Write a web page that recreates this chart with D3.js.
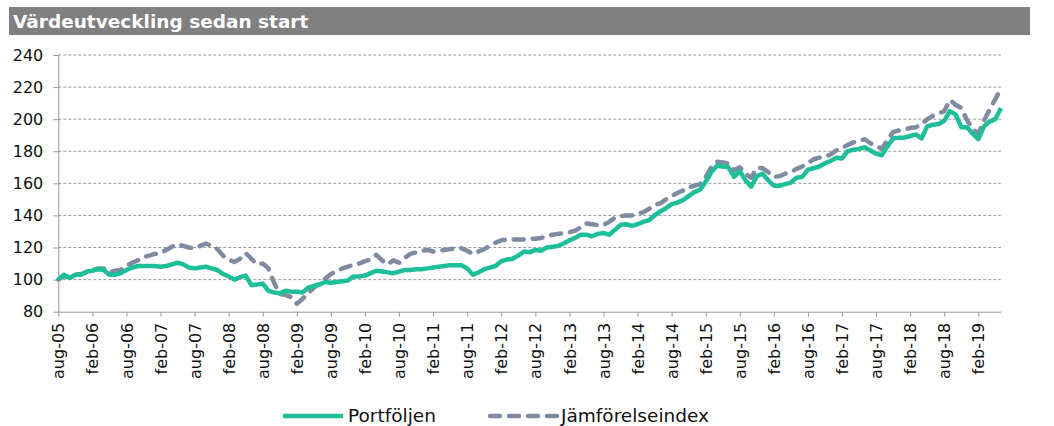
<!DOCTYPE html>
<html>
<head>
<meta charset="utf-8">
<script src="https://cdn.jsdelivr.net/npm/d3@7"></script>
<style>
  body { margin: 0; background: #fff; }
  svg { display: block; font-family: "DejaVu Sans", Verdana, sans-serif; }
</style>
</head>
<body>
<svg id="chart"></svg>
<script>
// monthly values, aug-05 .. jun-19
const portfolj = [
  100, 103, 101, 103, 103, 105, 105.5, 106.5, 106, 103, 103, 104,
  106, 107.5, 108.5, 108.5, 108.5, 108.5, 108, 108.5, 109.5, 110.5, 109.5, 107.5,
  107, 107.5, 108, 107, 106, 103.5, 102, 100, 101.5, 102.5, 96.5, 97,
  97.5, 93, 92, 91.5, 93, 92.5, 92.5, 92, 95, 96, 97, 98.5,
  98, 98.5, 99, 99.5, 102, 102, 102.5, 104, 105.5, 105, 104.5, 104,
  105, 106, 106, 106.5, 106.5, 107, 107.5, 108, 108.5, 109, 109, 109,
  107, 103, 104.5, 106.5, 107.5, 108.5, 111.5, 112.5, 113, 115, 117.5, 117,
  118.5, 118, 120, 120.5, 121, 122.5, 124.5, 126, 128, 128, 127, 128.5,
  129, 128, 131, 134, 134.5, 133.5, 134.5, 136, 137, 140, 142.5, 144.5,
  147, 148, 149.5, 152, 154.5, 156, 161, 167, 171, 170.5, 170, 164,
  167.5, 162, 158, 164.5, 166, 162, 158.5, 158.5, 159.5, 160.5, 163.5, 164,
  168.5, 169.5, 170.5, 172.5, 174, 176, 175.5, 180, 181, 181.5, 182.5, 180.5,
  178.5, 177.5, 183, 188, 188.5, 188.5, 189.5, 190.5, 188, 195.5, 196.5, 197,
  199, 205, 203, 195, 195, 191, 187.5, 195.5, 198.5, 200, 207
];

const jamforelse = [
  100, 102, 102, 103, 103.5, 104.5, 106, 107, 107, 104.5, 105.5, 106,
  108.5, 110.5, 112, 114, 115, 116, 116.5, 118.5, 120.5, 122, 121, 120,
  119.5, 121, 122.5, 121, 119, 115, 112.5, 111, 113, 116.5, 113, 109.5,
  110, 107, 98, 91, 90.5, 89, 85, 88, 91.5, 95, 97.5, 100.5,
  103.5, 105, 107, 108, 109.5, 110, 111.5, 112.5, 115.5, 112, 109.5, 112,
  110.5, 113.5, 116, 117, 118, 118.5, 117.5, 118, 118.5, 119, 119.5, 119.5,
  118, 116, 117.5, 119, 121, 123, 124.5, 125, 125, 125, 125, 125.5,
  125.5, 126, 127, 128, 128.5, 129, 129.5, 130.5, 132.5, 135, 134.5, 134,
  134, 136, 138.5, 139.5, 140, 140, 141, 142, 144, 146.5, 147.5, 150,
  152, 154, 155.5, 157.5, 158.5, 159.5, 164, 170, 173.5, 173, 172.5, 168,
  170, 166, 163.5, 169.5, 169.5, 167, 164, 164.5, 166, 167, 169, 170.5,
  172.5, 175, 176, 176.5, 178, 180.5, 182, 184, 185.5, 186.5, 187.5, 185,
  183.5, 181.5, 187, 192, 193, 193.5, 194.5, 195, 196.5, 200, 202, 203.5,
  205, 212, 209, 207, 199.5, 194, 191, 199, 206, 212.5, 219
];

// one label every 6 months
const tickLabels = [
  "aug-05", "feb-06", "aug-06", "feb-07", "aug-07", "feb-08", "aug-08",
  "feb-09", "aug-09", "feb-10", "aug-10", "feb-11", "aug-11", "feb-12",
  "aug-12", "feb-13", "aug-13", "feb-14", "aug-14", "feb-15", "aug-15",
  "feb-16", "aug-16", "feb-17", "aug-17", "feb-18", "aug-18", "feb-19"
];

const yTicks = [80, 100, 120, 140, 160, 180, 200, 220, 240];
const seriesNames = ["Portföljen", "Jämförelseindex"];

const title = "Värdeutveckling sedan start";

const width = 1054, height = 426;
const plot = { left: 58.3, right: 1001, top: 55, bottom: 311.7 };
const green = "#1dbf98", slate = "#7f8ba1";

const svg = d3.select("#chart")
  .attr("width", width)
  .attr("height", height);

// Title bar
svg.append("rect")
  .attr("x", 9)
  .attr("y", 7)
  .attr("width", 1021)
  .attr("height", 28)
  .attr("fill", "#808080");

svg.append("text")
  .attr("x", 13)
  .attr("y", 28)
  .attr("fill", "#fff")
  .attr("font-weight", "bold")
  .attr("font-size", "18.5px")
  .text(title);

const xScale = d3.scaleLinear()
  .domain([0, portfolj.length - 1])
  .range([plot.left, plot.right]);

const yScale = d3.scaleLinear()
  .domain([80, 240])
  .range([plot.bottom, plot.top]);

// Grid lines
svg.append("g")
  .selectAll("line")
  .data(yTicks.filter(d => d > 80))
  .join("line")
  .attr("x1", plot.left)
  .attr("x2", plot.right)
  .attr("y1", d => yScale(d))
  .attr("y2", d => yScale(d))
  .attr("stroke", "#9a9a9a")
  .attr("stroke-width", 1)
  .attr("stroke-dasharray", "3,2");

// Y axis
const yAxis = d3.axisLeft(yScale)
  .tickValues(yTicks)
  .tickSize(5)
  .tickPadding(10)
  .tickSizeOuter(0);

const yAxisG = svg.append("g")
  .attr("transform", `translate(${plot.left},0)`)
  .call(yAxis);

yAxisG.select(".domain").attr("stroke", "#999");
yAxisG.selectAll(".tick line").attr("stroke", "#999");
yAxisG.selectAll(".tick text")
  .attr("font-size", "16px")
  .attr("font-family", "DejaVu Sans")
  .attr("fill", "#111");

// X axis
const xAxis = d3.axisBottom(xScale)
  .tickValues(tickLabels.map((d, i) => i * 6))
  .tickFormat((d, i) => tickLabels[i])
  .tickSize(5)
  .tickSizeOuter(0);

const xAxisG = svg.append("g")
  .attr("transform", `translate(0,${plot.bottom})`)
  .call(xAxis);

xAxisG.select(".domain").attr("stroke", "#999");
xAxisG.selectAll(".tick line").attr("stroke", "#999");
xAxisG.selectAll(".tick text")
  .attr("font-size", "16px")
  .attr("font-family", "DejaVu Sans")
  .attr("fill", "#111")
  .attr("text-anchor", "end")
  .attr("transform", "rotate(-90)")
  .attr("x", -11)
  .attr("y", 0)
  .attr("dy", "0.35em");

// Lines
const line = d3.line()
  .x((d, i) => xScale(i))
  .y(d => yScale(d));

svg.append("path")
  .attr("d", line(jamforelse))
  .attr("fill", "none")
  .attr("stroke", slate)
  .attr("stroke-width", 4.5)
  .attr("stroke-linecap", "round")
  .attr("stroke-linejoin", "round")
  .attr("stroke-dasharray", "10,9");

svg.append("path")
  .attr("d", line(portfolj))
  .attr("fill", "none")
  .attr("stroke", green)
  .attr("stroke-width", 4.5)
  .attr("stroke-linejoin", "round");

// Legend
const legend = svg.append("g");
const legendItems = [
  { name: seriesNames[0], x1: 283, x2: 343, tx: 348, color: green, dash: null },
  { name: seriesNames[1], x1: 490, x2: 557, tx: 561, color: slate, dash: "10,9" }
];

legendItems.forEach(d => {
  legend.append("line")
    .attr("x1", d.x1)
    .attr("x2", d.x2)
    .attr("y1", 416)
    .attr("y2", 416)
    .attr("stroke", d.color)
    .attr("stroke-width", 4.5)
    .attr("stroke-linecap", d.dash ? "round" : "butt")
    .attr("stroke-dasharray", d.dash);

  legend.append("text")
    .attr("x", d.tx)
    .attr("y", 416)
    .attr("dy", "0.35em")
    .attr("font-size", "18.5px")
    .attr("fill", "#111")
    .text(d.name);
});
</script>
</body>
</html>
